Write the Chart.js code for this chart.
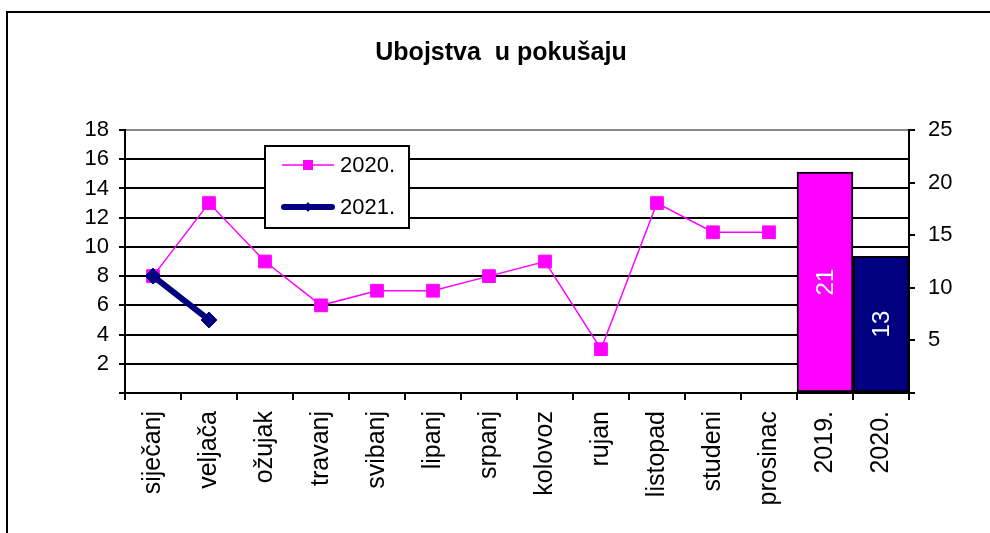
<!DOCTYPE html>
<html>
<head>
<meta charset="utf-8">
<script src="https://cdn.jsdelivr.net/npm/chart.js@4/dist/chart.umd.min.js"></script>
<style>
    html, body { margin: 0; padding: 0; background: #fff; }
    #wrap { width: 990px; height: 533px; position: relative; }
</style>
</head>
<body>
<div id="wrap"><canvas id="chart"></canvas></div>
<script>
const categories = ['siječanj', 'veljača', 'ožujak', 'travanj', 'svibanj', 'lipanj', 'srpanj',
    'kolovoz', 'rujan', 'listopad', 'studeni', 'prosinac', '2019.', '2020.'];
const series2020 = [8, 13, 9, 6, 7, 7, 8, 9, 3, 13, 11, 11];
const series2021 = [8, 5];
const yearLabels = ['2019.', '2020.'];
const yearTotals = [21, 13];
const leftTicks = [0, 2, 4, 6, 8, 10, 12, 14, 16, 18];
const rightTicks = [0, 5, 10, 15, 20, 25];

const FONT = '"Liberation Sans", Arial, sans-serif';
const MAGENTA = '#ff00ff';
const NAVY = '#000080';

// outer frame of the chart object
const framePlugin = {
    id: 'frame',
    beforeDraw(chart) {
        const ctx = chart.ctx;
        ctx.save();
        ctx.strokeStyle = '#000';
        ctx.lineWidth = 2;
        ctx.beginPath();
        ctx.moveTo(7, 533);
        ctx.lineTo(7, 12);
        ctx.lineTo(990, 12);
        ctx.stroke();
        ctx.restore();
    }
};

// rotated value labels inside the bars
const barLabelPlugin = {
    id: 'barLabels',
    afterDatasetsDraw(chart) {
        const ctx = chart.ctx;
        chart.data.datasets.forEach((ds, i) => {
            if (ds.type !== 'bar') return;
            const meta = chart.getDatasetMeta(i);
            meta.data.forEach((bar, j) => {
                const v = ds.data[j].y;
                ctx.save();
                ctx.translate(bar.x + 1, (bar.y + bar.base) / 2);
                ctx.rotate(-Math.PI / 2);
                ctx.fillStyle = '#fff';
                ctx.font = '24px ' + FONT;
                ctx.textAlign = 'center';
                ctx.textBaseline = 'middle';
                ctx.fillText(String(v), 0, 0);
                ctx.restore();
            });
        });
    }
};

// boxed legend for the two line series
const legendBoxPlugin = {
    id: 'legendBox',
    afterDraw(chart) {
        const ctx = chart.ctx;
        const box = { x: 265, y: 146, w: 144, h: 82 };
        ctx.save();
        ctx.fillStyle = '#fff';
        ctx.fillRect(box.x, box.y, box.w, box.h);
        ctx.strokeStyle = '#000';
        ctx.lineWidth = 2;
        ctx.strokeRect(box.x, box.y, box.w, box.h);

        const rows = [
            { ds: chart.data.datasets[1], y: 165 },
            { ds: chart.data.datasets[0], y: 207 }
        ];
        rows.forEach(row => {
            const ds = row.ds;
            ctx.strokeStyle = ds.borderColor;
            ctx.lineWidth = ds.borderWidth;
            ctx.lineCap = ds.borderWidth > 2 ? 'round' : 'butt';
            ctx.beginPath();
            ctx.moveTo(ds.borderWidth > 2 ? 284 : 282, row.y);
            ctx.lineTo(ds.borderWidth > 2 ? 332 : 334, row.y);
            ctx.stroke();
            ctx.fillStyle = ds.pointBackgroundColor;
            ctx.beginPath();
            if (ds.pointStyle === 'rect') {
                ctx.rect(303, row.y - 5, 10, 10);
            } else {
                ctx.moveTo(308, row.y - 5);
                ctx.lineTo(312, row.y);
                ctx.lineTo(308, row.y + 5);
                ctx.lineTo(304, row.y);
                ctx.closePath();
            }
            ctx.fill();
            ctx.fillStyle = '#000';
            ctx.font = '22px ' + FONT;
            ctx.textAlign = 'left';
            ctx.textBaseline = 'middle';
            ctx.fillText(ds.label, 340, row.y + 1);
        });
        ctx.restore();
    }
};

const ctx = document.getElementById('chart').getContext('2d');
new Chart(ctx, {
    data: {
        labels: categories,
        datasets: [
            {
                type: 'line',
                label: '2021.',
                data: series2021,
                yAxisID: 'y',
                borderColor: NAVY,
                borderWidth: 6,
                borderCapStyle: 'round',
                pointStyle: 'rectRot',
                pointRadius: 8,
                pointBackgroundColor: NAVY,
                pointBorderColor: NAVY,
                pointBorderWidth: 1,
                tension: 0,
                order: 0
            },
            {
                type: 'line',
                label: '2020.',
                data: series2020,
                yAxisID: 'y',
                borderColor: MAGENTA,
                borderWidth: 1.5,
                pointStyle: 'rect',
                pointRadius: 9,
                pointBackgroundColor: MAGENTA,
                pointBorderColor: MAGENTA,
                pointBorderWidth: 1,
                tension: 0,
                order: 1
            },
            {
                type: 'bar',
                label: 'Ukupno',
                data: yearLabels.map((x, i) => ({ x: x, y: yearTotals[i] })),
                yAxisID: 'y1',
                backgroundColor: [MAGENTA, NAVY],
                borderColor: '#000',
                borderWidth: 2,
                borderSkipped: false,
                categoryPercentage: 1,
                barPercentage: 1,
                order: 2
            }
        ]
    },
    options: {
        responsive: true,
        maintainAspectRatio: false,
        animation: false,
        layout: { padding: { left: 12, top: 0, right: 0, bottom: 0 } },
        plugins: {
            legend: { display: false },
            tooltip: { enabled: false },
            title: {
                display: true,
                text: 'Ubojstva  u pokušaju',
                color: '#000',
                font: { family: FONT, size: 25, weight: 'bold', lineHeight: 1.2 },
                padding: { top: 38, bottom: 62 }
            }
        },
        scales: {
            x: {
                type: 'category',
                offset: true,
                grid: {
                    offset: true,
                    drawOnChartArea: false,
                    drawTicks: true,
                    tickLength: 7,
                    color: '#000',
                    lineWidth: 2
                },
                border: { display: true, color: '#000', width: 2 },
                ticks: {
                    color: '#000',
                    font: { family: FONT, size: 25 },
                    minRotation: 90,
                    maxRotation: 90,
                    autoSkip: false,
                    padding: 11
                },
                afterFit(scale) { scale.height = 140; }
            },
            y: {
                position: 'left',
                min: 0,
                max: 18,
                afterBuildTicks(scale) { scale.ticks = leftTicks.map(v => ({ value: v })); },
                grid: {
                    color: (c) => (c.tick && c.tick.value === 18 ? '#888' : '#000'),
                    lineWidth: 2,
                    tickLength: 6,
                    tickColor: '#000'
                },
                border: { display: true, color: '#000', width: 2 },
                ticks: {
                    color: '#000',
                    font: { family: FONT, size: 22 },
                    padding: 10,
                    autoSkip: false,
                    callback: (v) => (v === 0 ? '' : v)
                },
                afterFit(scale) { scale.width = 113; }
            },
            y1: {
                position: 'right',
                min: 0,
                max: 25,
                afterBuildTicks(scale) { scale.ticks = rightTicks.map(v => ({ value: v })); },
                grid: {
                    drawOnChartArea: false,
                    tickLength: 6,
                    color: '#000',
                    lineWidth: 2
                },
                border: { display: true, color: '#000', width: 2 },
                ticks: {
                    color: '#000',
                    font: { family: FONT, size: 22 },
                    padding: 13,
                    autoSkip: false,
                    callback: (v) => (v === 0 ? '' : v)
                },
                afterFit(scale) { scale.width = 81; }
            }
        }
    },
    plugins: [framePlugin, barLabelPlugin, legendBoxPlugin]
});
</script>
</body>
</html>
